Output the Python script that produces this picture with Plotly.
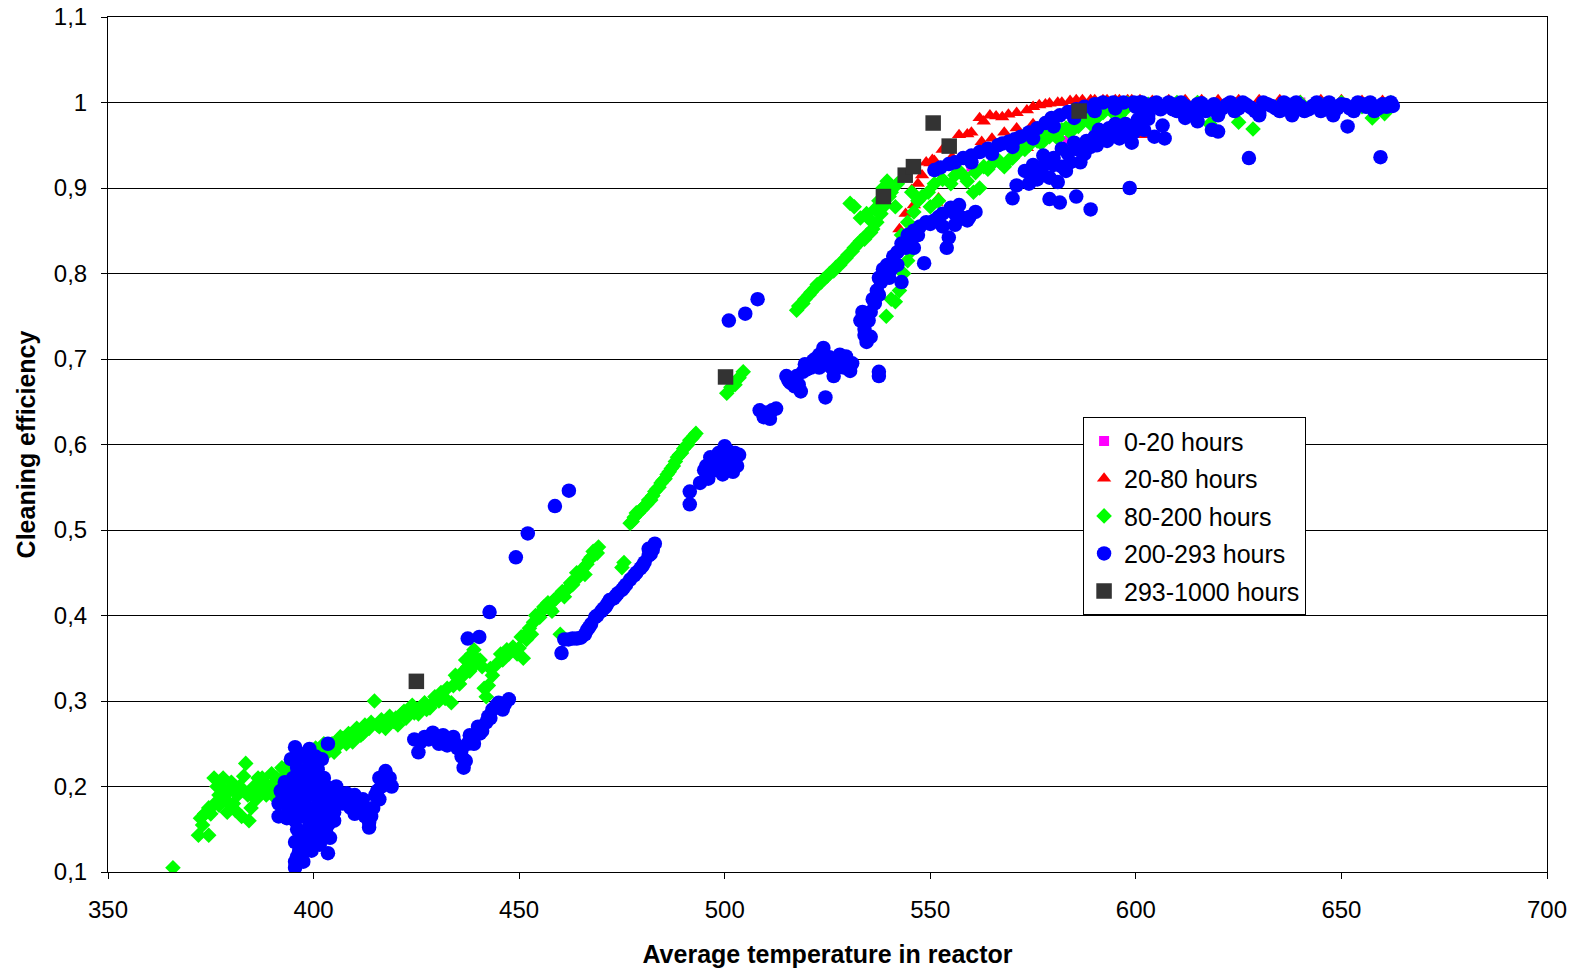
import plotly.graph_objects as go

# ---- data: (average temperature, cleaning efficiency) per series ----
pts_0_20 = [(583.5, 0.955), (575, 0.96), (560, 0.925), (590, 0.99), (600, 0.995),
            (610, 1.0), (625, 1.0), (640, 1.0), (655, 1.0)]

pts_20_80 = [(542.5, 0.852), (544, 0.87), (546, 0.88), (545.5, 0.898), (547, 0.905), (548, 0.915),
             (549, 0.93), (550, 0.929), (550.5, 0.933), (551, 0.932), (551.5, 0.883), (552, 0.888),
             (553, 0.945), (555.3, 0.936), (557, 0.962), (559, 0.963), (560, 0.965), (562.5, 0.954),
             (562, 0.982), (563, 0.978), (564.5, 0.985), (565, 0.958), (566, 0.984), (567.5, 0.983),
             (568, 0.965), (569, 0.986), (571, 0.988), (573.5, 0.991), (575, 0.995), (575, 0.975),
             (576.5, 0.997), (578, 0.998), (579, 0.999), (581, 1.0), (582, 1.0), (584, 1.002),
             (585.5, 1.003), (587, 1.003), (589, 1.003), (590, 1.003), (592, 1.003), (593, 1.003),
             (595, 1.003), (596, 1.003), (598, 1.003), (599, 1.003), (601, 1.003), (571, 0.97),
             (573.5, 0.947), (577, 0.955), (601.8, 0.962), (604, 1.002), (608, 1.003), (612, 1.003),
             (616, 1.003), (620, 1.003), (625, 1.003), (630, 1.003), (635, 1.003), (640, 1.002),
             (645, 1.003), (650, 1.003), (655, 1.002), (660, 1.002)]

pts_80_200 = [
    # low cluster
    (365.8, 0.105), (372, 0.143), (374.5, 0.143), (372.5, 0.163), (373, 0.155), (373.5, 0.168),
    (374.5, 0.175), (375, 0.168), (376, 0.18), (375.8, 0.21), (376.5, 0.2), (377, 0.19), (377, 0.178),
    (377.5, 0.2), (378, 0.21), (378.5, 0.185), (379, 0.17), (379.5, 0.195), (379.5, 0.18), (380, 0.205),
    (380.5, 0.18), (381, 0.172), (381, 0.2), (381.5, 0.19), (382, 0.2), (382.5, 0.165), (383, 0.212),
    (383, 0.195), (383.5, 0.227), (384, 0.19), (384.3, 0.16), (384.8, 0.175), (385, 0.19), (385.5, 0.2),
    (386, 0.185), (386.5, 0.21), (387, 0.195), (387.5, 0.21), (388, 0.205), (388.5, 0.19), (389, 0.2),
    (389.8, 0.215), (390, 0.19), (390.5, 0.205), (391, 0.21), (392, 0.205), (392.3, 0.222),
    (393.5, 0.215), (394, 0.225), (395, 0.225), (396.5, 0.23),
    # rising band
    (398, 0.228), (399, 0.225), (399.5, 0.236), (400.5, 0.245), (401, 0.232), (402, 0.242),
    (402.5, 0.25), (403.5, 0.24), (404.5, 0.25), (405, 0.24), (406, 0.248), (406.5, 0.258), (407, 0.256),
    (408, 0.25), (408.5, 0.262), (409.5, 0.252), (410, 0.258), (410.5, 0.268), (411.5, 0.26), (412, 0.262),
    (412.5, 0.272), (413.5, 0.268), (414, 0.275), (414.8, 0.3), (415.5, 0.272), (416, 0.27),
    (416.5, 0.278), (417.5, 0.268), (418, 0.275), (418.5, 0.282), (419.5, 0.276), (420, 0.28),
    (420.5, 0.272), (421.5, 0.285), (422, 0.288), (422.5, 0.28), (423.5, 0.29), (424, 0.295),
    (424.5, 0.286), (425.5, 0.285), (426, 0.292), (427, 0.298), (427.5, 0.29), (428.3, 0.292),
    (429, 0.298), (429.5, 0.305), (430.5, 0.3), (431, 0.31), (432, 0.303), (432.5, 0.315), (433.5, 0.298),
    (434, 0.318), (434.5, 0.33), (435, 0.327), (435.5, 0.32), (436, 0.328), (436.5, 0.335), (437, 0.348),
    (437.5, 0.34), (438, 0.335), (438.5, 0.355), (439, 0.36), (439.3, 0.343), (440.5, 0.348), (441, 0.34),
    (441.5, 0.315), (442, 0.305), (442.5, 0.318), (443, 0.338), (443.5, 0.33), (444.5, 0.343),
    (445.5, 0.355), (446, 0.348), (447, 0.36), (447.5, 0.355), (448.5, 0.363), (449.5, 0.355), (450, 0.362),
    (450.5, 0.375), (451, 0.35), (451.8, 0.372), (452, 0.38), (452.5, 0.385), (453, 0.378), (453.5, 0.392),
    (454, 0.4), (455, 0.398), (455.5, 0.405), (456, 0.41), (457, 0.415), (457.5, 0.408), (458, 0.405),
    (458.5, 0.418), (459, 0.42), (460, 0.378), (460.5, 0.428), (461, 0.422), (461.5, 0.43), (462, 0.432),
    (462.5, 0.438), (463, 0.436), (463.5, 0.442), (464, 0.45), (464.5, 0.445), (465.5, 0.455), (466, 0.448),
    (466.5, 0.46), (467, 0.465), (467.5, 0.468), (468, 0.475), (468.5, 0.472), (469, 0.473), (469.3, 0.48),
    (475, 0.456), (475.5, 0.462),
    # upper band
    (477, 0.508), (477.5, 0.51), (478, 0.515), (478.5, 0.52), (479, 0.52), (479.5, 0.523), (480, 0.525),
    (480.5, 0.528), (481, 0.53), (481.5, 0.535), (482, 0.535), (482.5, 0.54), (483, 0.545), (483.5, 0.548),
    (484, 0.55), (484.5, 0.555), (485, 0.558), (485.5, 0.56), (486, 0.565), (486.5, 0.568), (487, 0.572),
    (487.5, 0.575), (488, 0.58), (488.5, 0.585), (489, 0.588), (489.5, 0.59), (490, 0.595), (490.5, 0.598),
    (491, 0.6), (491.5, 0.605), (492, 0.607), (492.5, 0.61), (493, 0.613),
    (500.5, 0.66), (501.5, 0.667), (502.5, 0.67), (503.5, 0.678), (504.5, 0.685),
    # 517-545
    (517.5, 0.757), (518, 0.762), (519, 0.765), (519.5, 0.77), (520.5, 0.775), (521, 0.778), (522, 0.783),
    (522.5, 0.787), (523.5, 0.79), (524, 0.793), (525, 0.797), (525.5, 0.8), (526.5, 0.803), (527, 0.807),
    (528, 0.81), (528.5, 0.814), (529.5, 0.818), (530, 0.822), (531, 0.826), (531.5, 0.83), (532.5, 0.835),
    (533, 0.838), (534, 0.84), (534.5, 0.845), (535.5, 0.848), (536, 0.852), (537, 0.86), (538, 0.87),
    (539, 0.88), (540, 0.89), (541, 0.9), (542, 0.905),
    (530.5, 0.882), (531.5, 0.878), (533, 0.865), (534.5, 0.87), (535.5, 0.862), (536.5, 0.875),
    (537.5, 0.885), (538.5, 0.9), (539.5, 0.908), (540.5, 0.895), (541.5, 0.878),
    (539.3, 0.75), (540.5, 0.77), (541.5, 0.767), (542.5, 0.78), (543.5, 0.8), (544.5, 0.815),
    (545.5, 0.827), (543, 0.845), (544.5, 0.86), (546, 0.872), (547, 0.885), (548, 0.89), (549.5, 0.895),
    (551, 0.905), (553, 0.91), (555, 0.905), (557, 0.92), (560.5, 0.895), (562, 0.9), (563, 0.925),
    (565, 0.928), (567, 0.93), (569, 0.932), (571, 0.94), (573, 0.945), (545.5, 0.895), (550, 0.878),
    (552, 0.885), (556, 0.915), (559, 0.908),
    (558, 0.915), (561, 0.918), (564, 0.922), (566, 0.935), (568, 0.925), (570, 0.935), (572, 0.948),
    (574, 0.95), (577, 0.952), (578, 0.962), (580, 0.965), (581, 0.958), (583, 0.97), (586, 0.972),
    (587, 0.982), (590, 0.98), (592, 0.988), (595, 0.992), (596, 0.985),
    (576, 0.955), (579, 0.96), (582, 0.968), (585, 0.975), (588, 0.98), (591, 0.985), (594, 0.99),
    (597, 0.99), (600, 0.995), (584, 0.965), (589, 0.975),
    (603, 0.998), (610, 1.0), (618, 0.975), (625, 0.977), (628.5, 0.969), (635, 0.997), (645, 0.998),
    (657.5, 0.982), (660.5, 0.987), (655, 0.995), (662, 1.0), (598, 0.999), (615, 1.0), (640, 1.0),
    (650, 1.0)]

pts_200_293 = [
    # dense cluster near 400
    (395.5, 0.246), (399, 0.244), (403.5, 0.25), (402, 0.232), (394.5, 0.232), (397, 0.235), (396, 0.222),
    (396, 0.24), (398, 0.238), (400.5, 0.235), (399, 0.225), (401, 0.22), (395, 0.21), (397.5, 0.212),
    (400, 0.205), (402.5, 0.21), (401, 0.212), (398, 0.215), (396, 0.205), (393, 0.205), (403, 0.2),
    (392, 0.195), (394, 0.2), (396, 0.195), (398, 0.198), (400, 0.19), (402, 0.195), (404, 0.19),
    (405.5, 0.185), (405.5, 0.2), (406.5, 0.19), (392.5, 0.188), (394.5, 0.19), (396, 0.185),
    (398, 0.188), (400.5, 0.2), (402, 0.185), (404, 0.18),
    (391.5, 0.18), (393, 0.182), (395, 0.178), (397, 0.18), (399, 0.175), (401, 0.178), (403, 0.172),
    (405, 0.17), (394, 0.172), (396.5, 0.17), (398.5, 0.168), (400, 0.168), (402.5, 0.165), (404.5, 0.165),
    (391.5, 0.165), (393.5, 0.163), (395.5, 0.16), (397.5, 0.165), (399.5, 0.158), (401.5, 0.162),
    (403.5, 0.155), (405, 0.16), (399, 0.155), (401, 0.15), (403, 0.148), (396, 0.15), (398, 0.145),
    (400, 0.148), (402, 0.14), (404, 0.14), (397, 0.142), (398.5, 0.135), (400.5, 0.138), (395.5, 0.135),
    (397.5, 0.13), (399.5, 0.125), (401.5, 0.132), (403.5, 0.122), (396.5, 0.124), (395.5, 0.112),
    (397, 0.118), (397.5, 0.112), (396, 0.118), (395.5, 0.105),
    # 406-420
    (407, 0.18), (408, 0.192), (408.5, 0.185), (409, 0.175), (409.5, 0.185), (410, 0.19), (410, 0.168),
    (411, 0.175), (411.5, 0.18), (412, 0.172), (412, 0.185), (412.5, 0.165), (413, 0.17), (413.5, 0.158),
    (413.5, 0.152), (414, 0.165), (414.5, 0.175), (415, 0.19), (415.5, 0.195), (416, 0.185), (416, 0.21),
    (416.5, 0.2), (417, 0.205), (417.5, 0.218), (418, 0.205), (418.5, 0.21), (419, 0.2),
    # 424-448
    (424.5, 0.255), (425.5, 0.24), (426, 0.252), (427, 0.258), (428, 0.255), (429, 0.263), (430, 0.258),
    (430.5, 0.25), (431.5, 0.26), (432, 0.252), (432.5, 0.248), (433, 0.255), (434, 0.258), (434.5, 0.25),
    (435, 0.245), (436, 0.235), (436, 0.243), (436.5, 0.222), (437, 0.23), (437.5, 0.25), (438, 0.26),
    (438.5, 0.255), (439, 0.25), (440, 0.27), (440.5, 0.262), (441, 0.265), (442, 0.275), (442.5, 0.282),
    (443, 0.28), (443.5, 0.29), (444.5, 0.295), (445, 0.298), (446, 0.29), (446.5, 0.296), (447.5, 0.302),
    # scattered points
    (437.5, 0.373), (440.3, 0.375), (442.8, 0.404), (449.2, 0.468), (452.1, 0.496), (458.7, 0.528),
    (462.1, 0.546), (460.3, 0.356),
    # 461-484
    (461, 0.372), (462, 0.372), (463, 0.373), (464, 0.373), (465, 0.374), (466, 0.378), (466.5, 0.383),
    (467, 0.386), (467.5, 0.39), (468.5, 0.398), (469, 0.4), (470, 0.405), (470.5, 0.408), (471, 0.41),
    (471.5, 0.414), (472, 0.418), (473, 0.42), (473.5, 0.423), (474, 0.426), (475, 0.43), (475.5, 0.433),
    (476, 0.436), (477, 0.442), (478, 0.447), (478.5, 0.45), (479.5, 0.455), (480, 0.458), (480.5, 0.462),
    (481.5, 0.47), (482, 0.472), (482.5, 0.477), (483, 0.484), (481.5, 0.478),
    # 491-504
    (491.5, 0.53), (491.5, 0.545), (494, 0.555), (495, 0.57), (495.5, 0.575), (496, 0.565), (496, 0.56),
    (496.5, 0.585), (497, 0.575), (497.5, 0.57), (498, 0.58), (498.5, 0.59), (499, 0.575), (499.5, 0.565),
    (500, 0.585), (500, 0.598), (500.5, 0.575), (501, 0.592), (501.5, 0.585), (502, 0.58), (502, 0.568),
    (502.5, 0.59), (503, 0.575), (503.5, 0.588),
    (501, 0.745), (505, 0.753), (508, 0.77),
    # 508-531
    (508.5, 0.64), (509.5, 0.632), (510, 0.637), (511, 0.63), (511.5, 0.64), (512.5, 0.642), (515, 0.68),
    (515.5, 0.675), (516, 0.672), (517, 0.668), (517.5, 0.68), (518, 0.67), (518.5, 0.662), (519, 0.685),
    (519.5, 0.694), (520, 0.688), (521, 0.69), (521.5, 0.698), (522, 0.7), (523, 0.705), (523, 0.69),
    (524, 0.713), (525, 0.693), (524.5, 0.655), (525.5, 0.702), (526, 0.69), (526.5, 0.68), (527, 0.698),
    (527.5, 0.69), (528, 0.705), (528.5, 0.698), (529, 0.69), (529.5, 0.703), (530.5, 0.686), (531, 0.695),
    (537.5, 0.685), (537.5, 0.68),
    # 533-560
    (533, 0.745), (533.5, 0.755), (534, 0.735), (534, 0.728), (534.5, 0.72), (535, 0.745), (535.5, 0.726),
    (535.5, 0.755), (536, 0.77), (536.5, 0.765), (537, 0.78), (537.5, 0.775), (537.5, 0.795), (538, 0.79),
    (538.5, 0.805), (539, 0.8), (539.5, 0.81), (540, 0.795), (540.5, 0.805), (541, 0.82), (542, 0.81),
    (542, 0.825), (543, 0.79), (543, 0.835), (544, 0.83), (544.5, 0.845), (545, 0.838), (546, 0.85),
    (546, 0.83), (547, 0.845), (547.5, 0.855), (548.5, 0.812), (549, 0.86), (550, 0.858), (551, 0.862),
    (552, 0.866), (553, 0.855), (553, 0.87), (554, 0.83), (554.5, 0.842), (555, 0.877), (556, 0.87),
    (556, 0.857), (557, 0.88), (558, 0.865), (559, 0.862), (559.5, 0.866), (561, 0.872),
    # upper arc
    (551, 0.921), (552.5, 0.924), (554.5, 0.928), (556, 0.93), (558, 0.935), (560, 0.938), (560, 0.93),
    (562, 0.942), (564, 0.946), (565, 0.94), (566.5, 0.95), (567.5, 0.952), (569, 0.954), (570, 0.948),
    (570.5, 0.957), (572, 0.96), (574, 0.965), (575, 0.958), (576, 0.97), (578, 0.976), (579.5, 0.982),
    (580, 0.972), (581.5, 0.985), (583.5, 0.989), (585, 0.982), (585.5, 0.992), (587.5, 0.995),
    (590, 0.998), (590, 0.99), (592, 1.0), (594.5, 1.0), (595, 0.993), (597, 1.0), (599.5, 1.0),
    (601.5, 1.0),
    # lower arc
    (571, 0.903), (570, 0.888), (574, 0.905), (575, 0.915), (573, 0.92), (575, 0.927), (576, 0.91),
    (577, 0.92), (577.5, 0.938), (578, 0.928), (579, 0.912), (579, 0.887), (580, 0.935), (580, 0.927),
    (581, 0.907), (581.5, 0.883), (582, 0.946), (582, 0.925), (583, 0.92), (583.5, 0.94), (584, 0.93),
    (585, 0.953), (585.5, 0.89), (586, 0.945), (586.5, 0.93), (587.5, 0.94), (588, 0.955), (589, 0.948),
    (589, 0.875), (590, 0.96), (590.5, 0.95), (591, 0.968), (592, 0.962), (593, 0.955), (593.5, 0.97),
    (594.5, 0.962), (595, 0.975), (596, 0.958), (597, 0.965), (597.5, 0.975), (598, 0.97), (598.5, 0.9),
    (599, 0.953), (599.5, 0.965), (600.5, 0.98), (601, 0.975), (602, 0.968), (603, 0.981), (604.5, 0.96),
    (606.5, 0.973), (607, 0.958), (609.5, 0.997), (618.5, 0.968), (620, 0.966), (627.5, 0.935),
    (651.5, 0.972), (659.5, 0.936),
    # top band
    (600, 0.995), (601, 1.0), (602, 0.99), (603, 0.995), (604, 0.998), (605, 1.0), (606, 0.992),
    (607, 0.995), (608, 1.0), (609, 0.992), (610, 0.99), (611, 1.0), (612, 0.996), (613, 0.993),
    (614, 0.989), (615, 0.998), (616, 0.999), (617, 0.99), (618, 0.993), (619, 0.998), (620, 0.985),
    (621, 0.993), (622, 0.997), (623, 1.0), (624, 0.99), (625, 0.993), (626, 1.0), (627, 0.997),
    (628, 0.994), (629, 0.99), (630, 0.988), (630, 0.985), (631, 1.0), (632, 0.998), (633, 0.996),
    (634, 0.993), (635, 0.99), (636, 1.0), (637, 0.997), (638, 0.988), (638, 0.985), (639, 1.0),
    (640, 0.996), (641, 0.99), (642, 0.992), (643, 0.996), (644, 1.0), (645, 0.99), (646, 0.994),
    (647, 1.0), (648, 0.987), (648, 0.985), (649, 0.993), (650, 0.998), (651, 0.997), (652, 0.993),
    (653, 0.99), (654, 1.0), (655, 0.998), (656, 0.995), (657, 1.0), (658, 0.99), (659, 0.993),
    (660, 0.998), (661, 0.995), (662, 1.0), (662.5, 0.996), (612, 0.982), (615, 0.978), (603, 0.985)]

pts_293_1000 = [(425, 0.323), (500.2, 0.679), (538.6, 0.89), (543.9, 0.915), (545.9, 0.925),
                (550.7, 0.976), (554.6, 0.949), (586.2, 0.99)]

series_names = ["0-20 hours", "20-80 hours", "80-200 hours", "200-293 hours", "293-1000 hours"]
series_pts = [pts_0_20, pts_20_80, pts_80_200, pts_200_293, pts_293_1000]
series_colors = ["#FF00FF", "#FF0000", "#00FF00", "#0000FF", "#333333"]
series_symbols = ["square", "triangle-up", "diamond", "circle", "square"]
series_sizes = [10, 12.5, 12, 14.5, 15.5]

y_ticks = [0.1, 0.2, 0.3, 0.4, 0.5, 0.6, 0.7, 0.8, 0.9, 1.0, 1.1]
y_labels = ["0,1", "0,2", "0,3", "0,4", "0,5", "0,6", "0,7", "0,8", "0,9", "1", "1,1"]
x_ticks = [350, 400, 450, 500, 550, 600, 650, 700]

FONT = "Liberation Sans, Arial, sans-serif"

fig = go.Figure()
for name, pts, col, sym, sz in zip(series_names, series_pts, series_colors, series_symbols, series_sizes):
    fig.add_trace(go.Scatter(
        x=[p[0] for p in pts], y=[p[1] for p in pts], mode="markers", name=name,
        legendgroup=name,
        marker=dict(color=col, symbol=sym, size=sz, line=dict(width=0)),
    ))

# the page body adds an 8 px margin, so the figure is sized to fit inside the window
fig.update_layout(
    width=1569, height=964,
    margin=dict(l=100, r=30, t=9, b=100),
    paper_bgcolor="white", plot_bgcolor="white",
    font=dict(family=FONT, size=24, color="black"),
    showlegend=True,
    legend=dict(x=0.6776, y=0.532, xanchor="left", yanchor="top",
                bgcolor="white", bordercolor="black", borderwidth=1,
                font=dict(family=FONT, size=25, color="black"),
                tracegroupgap=2, itemsizing="trace", traceorder="grouped"),
    xaxis=dict(range=[350, 700], tickvals=x_ticks, showgrid=False, zeroline=False,
               showline=True, linecolor="black", linewidth=1, mirror=True, automargin=False,
               ticks="outside", ticklen=6, tickcolor="black", ticklabeloverflow="allow",
               tickfont=dict(family=FONT, size=24), ticklabelstandoff=10,
               title=dict(text="<b>Average temperature in reactor</b>", standoff=23,
                          font=dict(family=FONT, size=25))),
    yaxis=dict(range=[0.1, 1.1], tickvals=y_ticks, ticktext=y_labels,
               showgrid=True, gridcolor="black", gridwidth=1, zeroline=False,
               showline=True, linecolor="black", linewidth=1, mirror=True, automargin=False,
               ticks="outside", ticklen=6, tickcolor="black", ticklabeloverflow="allow",
               tickfont=dict(family=FONT, size=24), ticklabelstandoff=9,
               title=dict(text="<b>Cleaning efficiency</b>", standoff=11,
                          font=dict(family=FONT, size=25))),
)

fig.write_html("out.html")
